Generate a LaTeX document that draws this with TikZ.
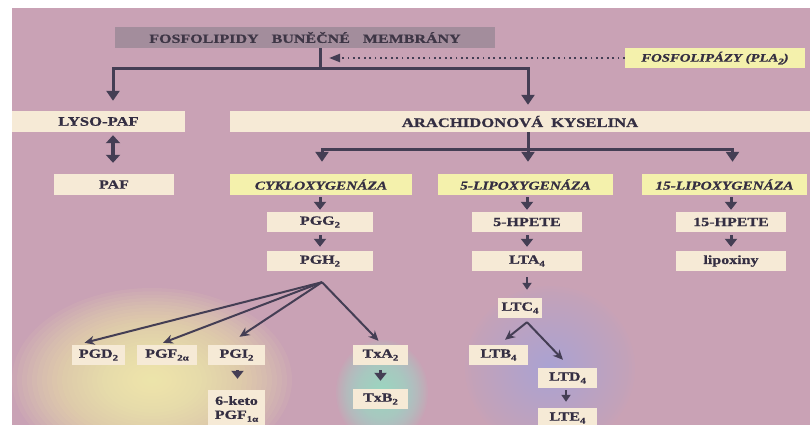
\documentclass[tikz,border=0pt]{standalone}
\usepackage{fontspec}
\setmainfont{Liberation Serif}[FakeStretch=1.28, BoldFeatures={FakeBold=0.8}, BoldItalicFeatures={FakeBold=0.8}]
\usetikzlibrary{arrows.meta,calc}

\definecolor{bgpink}{RGB}{201,162,181}
\definecolor{cream}{RGB}{246,234,214}
\definecolor{enzyme}{RGB}{244,241,172}
\definecolor{topgray}{RGB}{163,141,156}
\definecolor{ink}{RGB}{52,46,66}
\definecolor{wirecol}{RGB}{68,62,84}
\definecolor{glowyellow}{RGB}{252,252,170}
\definecolor{glowcyan}{RGB}{155,228,205}
\definecolor{glowblue}{RGB}{168,186,238}

% lowered index for chemical names
\newcommand\lowidx[1]{\raisebox{-0.5ex}{\fontsize{8.5}{8.5}\selectfont #1}}

\begin{document}
\begin{tikzpicture}[x=1pt,y=-1pt,
  box/.style={fill=cream, inner sep=0pt, text=ink, minimum height=20pt,
    font=\bfseries\fontsize{12.5}{14}\selectfont},
  bigbox/.style={box, minimum height=21pt, font=\bfseries\fontsize{13}{15}\selectfont},
  topbox/.style={bigbox, fill=topgray, text={rgb,255:red,62;green,54;blue,70},
    font=\bfseries\fontsize{12.5}{15}\selectfont},
  enz/.style={box, fill=enzyme, minimum height=21pt,
    font=\bfseries\itshape\fontsize{12}{14}\selectfont},
  wire/.style={draw=wirecol, line width=3pt},
  feed/.style={wire, -{Triangle[width=13pt,length=10pt]}},
  downarr/.style={wire, -{Triangle[width=12pt,length=8pt]}},
  thinarr/.style={draw=wirecol, line width=1.7pt, -{Triangle[width=9pt,length=7pt]}},
  fanarr/.style={draw=wirecol, line width=2pt, -{Stealth[length=10pt,width=9pt]}},
  dualarr/.style={draw=wirecol, line width=3.2pt,
    {Triangle[width=14pt,length=8pt]}-{Triangle[width=14pt,length=8pt]}},
  dotarr/.style={draw=wirecol, line width=2.2pt, dash pattern=on 1.8pt off 3.6pt,
    -{Triangle[width=8pt,length=11pt]}}
]
\useasboundingbox (0,0) rectangle (810,424);

% paper (drawn slightly past the page edge)
\fill[white] (-4,-4) rectangle (816,430);
\fill[bgpink] (12,8) rectangle (816,430);

% soft coloured glows, built from stacked translucent ellipses
\begin{scope}
  \clip (12,8) rectangle (816,430);
  \foreach \k in {1,...,28} {
    \fill[glowyellow, opacity=0.06] (152,380) ellipse [x radius={140pt*\k/28}, y radius={92pt*\k/28}];
    \fill[glowblue, opacity=0.035] (550,368) ellipse [x radius={85pt*\k/28}, y radius={82pt*\k/28}];
    \fill[glowcyan, opacity=0.065] (382,392) ellipse [x radius={46pt*\k/28}, y radius={52pt*\k/28}];
  }
\end{scope}

% boxes
\node[topbox, minimum width=380pt] (top) at (305,37.5)
  {FOSFOLIPIDY\hspace{13pt}BUNĚČNÉ\hspace{13pt}MEMBRÁNY};
\node[enz, minimum width=180pt, minimum height=20pt, font=\bfseries\itshape\fontsize{11.5}{13}\selectfont]
  (pla) at (715,58) {FOSFOLIPÁZY (PLA\lowidx{2})};

\node[bigbox, minimum width=173pt] (lyso) at (98.5,121.5) {LYSO-PAF};
\node[bigbox, minimum width=580pt] (ak) at (520,121.5) {ARACHIDONOVÁ\hspace{8pt}KYSELINA};

\node[bigbox, minimum width=120pt, font=\bfseries\fontsize{12.5}{14}\selectfont] (paf) at (114,184.5) {PAF};
\node[enz, minimum width=182pt] (cox) at (321,184.5) {CYKLOXYGENÁZA};
\node[enz, minimum width=175pt] (lox5) at (525.5,184.5) {5-LIPOXYGENÁZA};
\node[enz, minimum width=165pt] (lox15) at (724.5,184.5) {15-LIPOXYGENÁZA};

\node[box, minimum width=106pt] (pgg) at (320,222) {PGG\lowidx{2}};
\node[box, minimum width=106pt] (pgh) at (320,261) {PGH\lowidx{2}};
\node[box, minimum width=110pt] (hpete5) at (527,222) {5-HPETE};
\node[box, minimum width=110pt] (lta) at (527,261) {LTA\lowidx{4}};
\node[box, minimum width=110pt] (hpete15) at (731,222) {15-HPETE};
\node[box, minimum width=110pt] (lipox) at (731,261) {lipoxiny};

\node[box, minimum width=44pt] (ltc) at (520,308) {LTC\lowidx{4}};
\node[box, minimum width=59pt] (ltb) at (498.5,355) {LTB\lowidx{4}};
\node[box, minimum width=59pt] (ltd) at (567.5,378) {LTD\lowidx{4}};
\node[box, minimum width=59pt] (lte) at (567.5,418) {LTE\lowidx{4}};

\node[box, minimum width=53pt] (pgd) at (98.5,355) {PGD\lowidx{2}};
\node[box, minimum width=60pt] (pgf) at (167,355) {PGF\lowidx{2α}};
\node[box, minimum width=57pt] (pgi) at (236.5,355) {PGI\lowidx{2}};
\node[box, minimum width=57pt, minimum height=38pt, align=center,
  font=\bfseries\fontsize{12.5}{14}\selectfont] (keto) at (236.5,409) {6-keto\\PGF\lowidx{1α}};
\node[box, minimum width=55pt] (txa) at (380.5,355) {TxA\lowidx{2}};
\node[box, minimum width=55pt] (txb) at (380.5,399) {TxB\lowidx{2}};

% membrane phospholipids split into two branches
\coordinate (j1) at (320,68);
\draw[wire] (top.south -| j1) -- (j1);
\draw[feed, shorten >=10pt] (j1) -| ($(lyso.north)+(14.5,0)$);
\draw[feed, shorten >=6pt] (j1) -| ($(ak.north)+(8,0)$);
\draw[dotarr] (pla.west) -- ($(pla.west -| j1)+(9,0)$);

\draw[dualarr, shorten <=3pt, shorten >=11pt] ($(lyso.south)+(14.5,0)$) -- ($(paf.north)+(-1,0)$);

% arachidonic acid to the three enzymes
\coordinate (j2) at (528,149);
\draw[wire] ($(ak.south)+(8,0)$) -- (j2);
\draw[feed, shorten >=12pt] (j2) -| ($(cox.north)+(1,0)$);
\draw[feed, shorten >=12pt] (j2) -- (j2 |- lox5.north);
\draw[feed, shorten >=12pt] (j2) -| ($(lox15.north)+(8,0)$);

% cyclooxygenase chain
\draw[downarr, shorten <=2pt, shorten >=2pt] (cox.south -| pgg) -- (pgg.north);
\draw[downarr, shorten <=3pt, shorten >=4pt] (pgg.south) -- (pgh.north);
\coordinate (fan) at ($(pgh.south)+(2,11)$);
\draw[fanarr] (fan) -- ($(pgd.north)+(-14,-2)$);
\draw[fanarr] (fan) -- ($(pgf.north)+(-4,-2)$);
\draw[fanarr] (fan) -- ($(pgi.north)+(3,-8)$);
\draw[fanarr] (fan) -- ($(txa.north)+(-2,-4)$);
\draw[downarr, shorten <=5pt, shorten >=11pt] ($(pgi.south)+(1,0)$) -- ($(keto.north)+(1,0)$);
\draw[downarr, shorten <=5pt, shorten >=8pt] (txa.south) -- (txb.north);

% 5-lipoxygenase chain
\draw[downarr, shorten <=2pt, shorten >=2pt] (lox5.south -| hpete5) -- (hpete5.north);
\draw[downarr, shorten <=3pt, shorten >=4pt] (hpete5.south) -- (lta.north);
\draw[thinarr, shorten <=6pt, shorten >=8pt] (lta.south) -- (lta.south |- ltc.north);
\coordinate (fork) at ($(ltc.south)+(7,4)$);
\draw[fanarr] (fork) -- ($(ltb.north)+(6.5,-5)$);
\draw[fanarr] (fork) -- ($(ltd.north)+(-4.5,-8)$);
\draw[thinarr, shorten <=2pt, shorten >=6pt] ($(ltd.south)+(-1.5,0)$) -- ($(lte.north)+(-1.5,0)$);

% 15-lipoxygenase chain
\draw[downarr, shorten <=2pt, shorten >=2pt] (lox15.south -| hpete15) -- (hpete15.north);
\draw[downarr, shorten <=3pt, shorten >=4pt] (hpete15.south) -- (lipox.north);
\end{tikzpicture}
\end{document}
